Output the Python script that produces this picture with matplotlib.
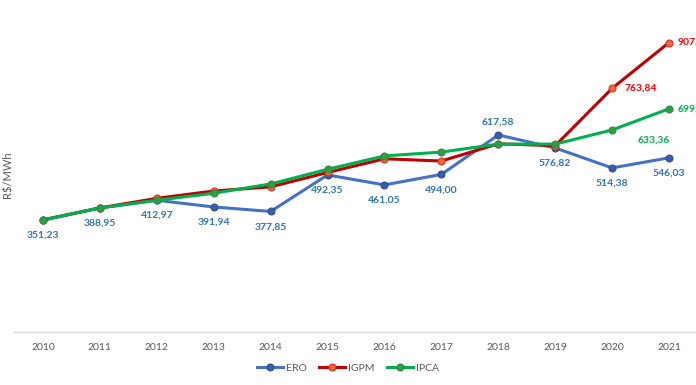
import matplotlib.pyplot as plt

years = ['2010', '2011', '2012', '2013', '2014', '2015', '2016', '2017', '2018', '2019', '2020', '2021']
ero = [351.23, 388.95, 412.97, 391.94, 377.85, 492.35, 461.05, 494.00, 617.58, 576.82, 514.38, 546.03]
igpm = [351.23, 388.95, 419.0, 442.0, 455.0, 500.0, 543.0, 536.0, 590.0, 584.0, 763.84, 907.45]
ipca = [351.23, 388.95, 413.0, 435.0, 464.0, 510.0, 552.0, 564.0, 589.0, 589.0, 633.36, 699.80]


def fmt(v):
    return f'{v:.2f}'.replace('.', ',')


plt.rcParams['font.family'] = ['Lato', 'DejaVu Sans']

fig = plt.figure(figsize=(6.96, 3.85), dpi=100)
ax = fig.add_axes([14.5 / 696, 53 / 385, 683 / 696, 319 / 385])

x = range(len(years))
ax.plot(x, ero, color='#4472C4', lw=2.2, marker='o', ms=5,
        mfc='#3A5FA8', mec='#2F4F8F', mew=0.8, label='ERO', zorder=3)
ax.plot(x, igpm, color='#C00000', lw=2.2, marker='o', ms=5,
        mfc='#F0683A', mec='#E03020', mew=0.8, label='IGPM', zorder=4)
ax.plot(x, ipca, color='#00B050', lw=2.2, marker='o', ms=5,
        mfc='#2E9E44', mec='#2E8B3E', mew=0.8, label='IPCA', zorder=5)

# ERO labels: below the points, except 2018 above
for i, v in enumerate(ero):
    dy = 9 if i == 8 else -11
    ax.annotate(fmt(v), (i, v), xytext=(0, dy), textcoords='offset points',
                ha='center', va='center', fontsize=7.5, fontweight='bold', color='#2E75B6')

ax.annotate(fmt(igpm[10]), (10, igpm[10]), xytext=(9, 0), textcoords='offset points',
            ha='left', va='center', fontsize=7.5, fontweight='bold', color='#FF0000')
ax.annotate(fmt(igpm[11]), (11, igpm[11]), xytext=(6, 0), textcoords='offset points',
            ha='left', va='center', fontsize=7.5, fontweight='bold', color='#FF0000')
ax.annotate(fmt(ipca[10]), (10, ipca[10]), xytext=(18, -7), textcoords='offset points',
            ha='left', va='center', fontsize=7.5, fontweight='bold', color='#00B050')
ax.annotate(fmt(ipca[11]), (11, ipca[11]), xytext=(6, 0), textcoords='offset points',
            ha='left', va='center', fontsize=7.5, fontweight='bold', color='#00B050')

ax.set_xlim(-0.5, 11.5)
ax.set_ylim(0, 1000)
ax.set_xticks(list(x))
ax.set_xticklabels(years)
ax.tick_params(axis='x', length=0, pad=8, labelsize=7.5, labelcolor='#595959')
ax.set_yticks([])
for s in ['top', 'right', 'left']:
    ax.spines[s].set_visible(False)
ax.spines['bottom'].set_color('#D9D9D9')
ax.spines['bottom'].set_linewidth(1)

fig.text(8 / 696, 1 - 175 / 385, 'R$/MWh', rotation=90, ha='center', va='center',
         fontsize=8, color='#595959')

fig.legend(loc='center', bbox_to_anchor=(348 / 696, 17 / 385), ncol=3, frameon=False,
           fontsize=7.5, labelcolor='#595959', handlelength=2.5, columnspacing=1.2,
           handletextpad=0.3)

fig.savefig('out.png', dpi=100)
